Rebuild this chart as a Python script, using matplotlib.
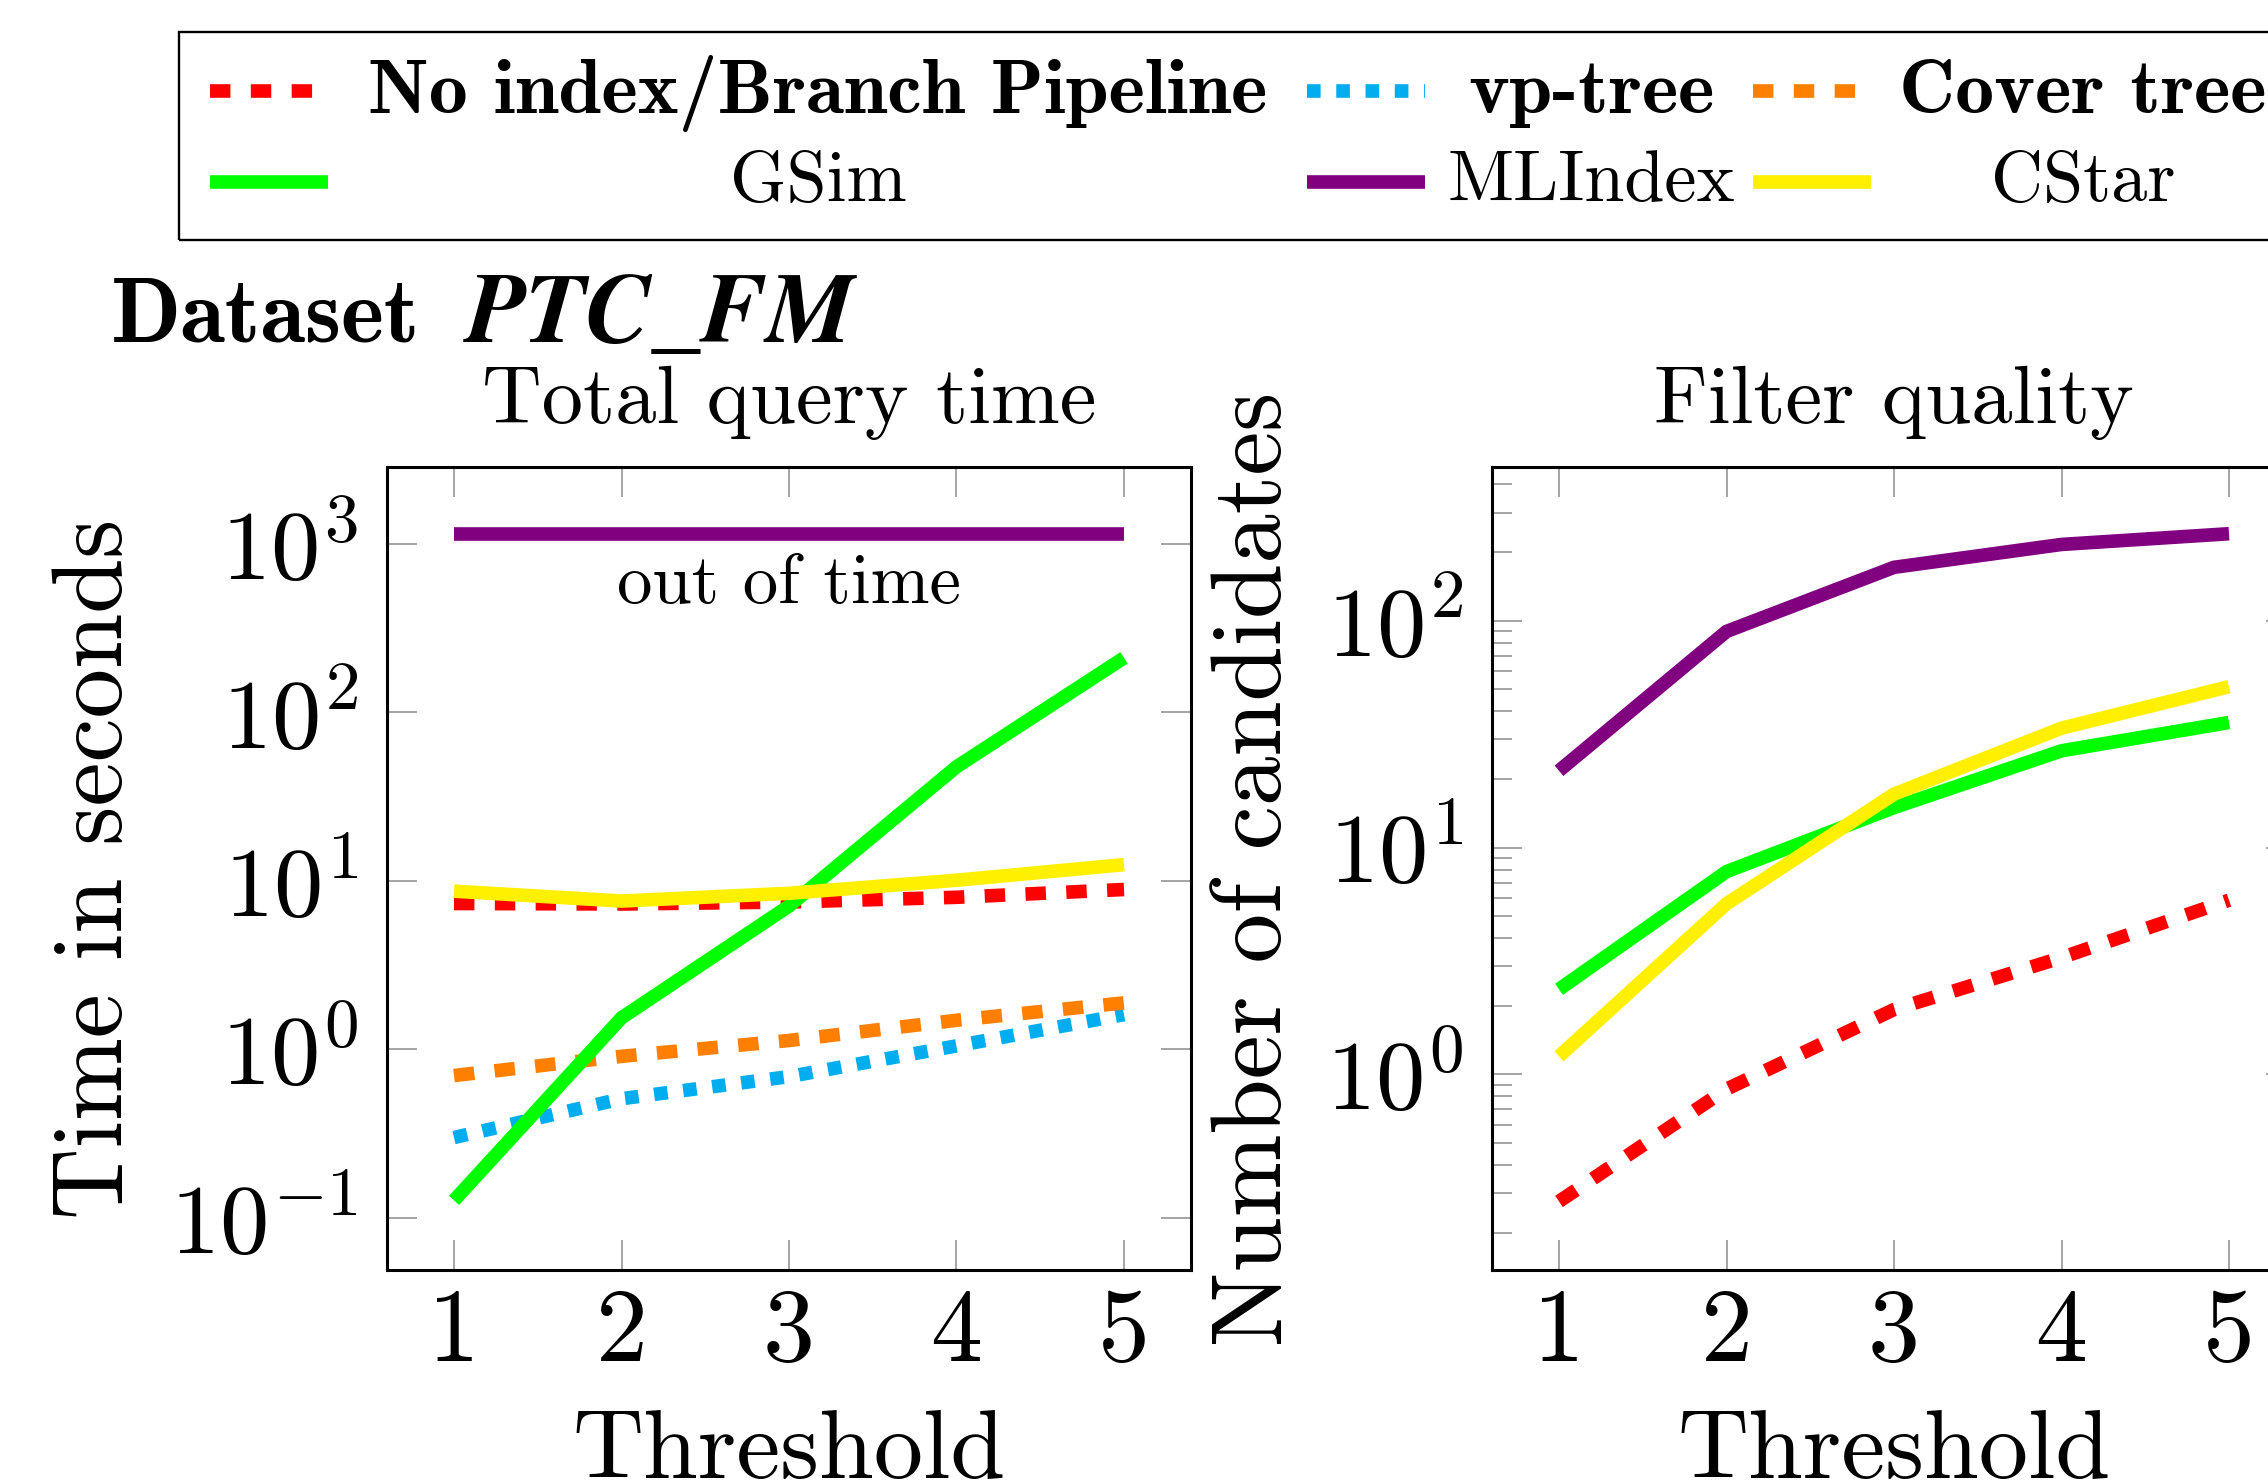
import matplotlib
matplotlib.use("Agg")
import matplotlib.pyplot as plt
from matplotlib.lines import Line2D
from matplotlib.patches import Rectangle
from matplotlib import ticker

plt.rcParams['font.family'] = 'cmr10'
plt.rcParams['mathtext.fontset'] = 'cm'
plt.rcParams['axes.formatter.use_mathtext'] = True

# ---------------- data ----------------
thresholds = [1, 2, 3, 4, 5]
tick_labels = ['1', '2', '3', '4', '5']

# Total query time (seconds)
time_noindex = [7.35, 7.3, 7.5, 8.0, 8.9]
time_vptree = [0.30, 0.51, 0.69, 1.05, 1.61]
time_cover = [0.70, 0.91, 1.13, 1.49, 1.89]
time_gsim = [0.127, 1.54, 7.1, 47.6, 211]
time_mlindex = [1150, 1150, 1150, 1150, 1150]   # out of time
time_cstar = [8.7, 7.6, 8.45, 10.1, 12.5]

# Filter quality (number of candidates)
cand_noindex = [0.275, 0.86, 1.93, 3.27, 5.86]
cand_gsim = [2.37, 7.83, 15.0, 26.7, 35.6]
cand_mlindex = [21.8, 89.7, 172, 217, 242]
cand_cstar = [1.20, 5.65, 17.2, 33.6, 51.2]

names = ['No index/Branch Pipeline', 'vp-tree', 'Cover tree', 'GSim', 'MLIndex', 'CStar']
colors = ['#FF0000', '#00AEEF', '#FF8000', '#00FF00', '#800080', '#FFF000']
dashes = [(1.5, 1.5), (1.0, 1.15), (1.5, 1.5), None, None, None]
bold_label = [True, True, True, False, False, False]

time_series = [time_noindex, time_vptree, time_cover, time_gsim, time_mlindex, time_cstar]
cand_series = [cand_noindex, None, None, cand_gsim, cand_mlindex, cand_cstar]

LW = 9.8
W, H = 2268, 1484
fig = plt.figure(figsize=(W / 100, H / 100), dpi=100)


def fx(x):
    return x / W


def fy(y):
    return 1 - y / H


axw = 804 / W
axh = 803 / H
ax1 = fig.add_axes([fx(387), fy(1270), axw, axh])
ax2 = fig.add_axes([fx(1492), fy(1270), axw, axh])

for ax, series in ((ax1, time_series), (ax2, cand_series)):
    for vals, c, d in zip(series, colors, dashes):
        if vals is None:
            continue
        line, = ax.plot(thresholds, vals, color=c, lw=LW, solid_capstyle='butt',
                        dash_capstyle='butt', solid_joinstyle='miter')
        if d is not None:
            line.set_dashes(d)
    ax.set_yscale('log')
    ax.set_xlim(0.6, 5.4)
    ax.set_xticks(thresholds, labels=tick_labels)
    ax.yaxis.set_minor_formatter(ticker.NullFormatter())
    ax.tick_params(which='both', direction='in', top=True, right=True, color='#8c8c8c',
                   width=1.1)
    ax.tick_params(which='major', length=21.6)
    ax.tick_params(which='minor', length=14.4)
    ax.tick_params(axis='x', labelsize=75, pad=13)
    ax.tick_params(axis='y', labelsize=71, pad=21)
    for sp in ax.spines.values():
        sp.set_linewidth(2.2)
    ax.set_xlabel('Threshold', fontsize=71, va='baseline')
    ax.xaxis.set_label_coords(0.5, -0.259)

ax1.set_ylim(10 ** -1.309, 10 ** 3.457)
ax2.set_ylim(10 ** -0.863, 10 ** 2.678)
ax1.yaxis.set_major_locator(ticker.LogLocator(base=10, numticks=20))
ax2.yaxis.set_major_locator(ticker.LogLocator(base=10, numticks=20))

ax1.set_title('Total query time', fontsize=59.5, pad=31.7)
ax2.set_title('Filter quality', fontsize=59.5, pad=31.7)

ax1.set_ylabel('Time in seconds', fontsize=71.5, va='baseline')
ax1.yaxis.set_label_coords(-0.3296, 0.5)
ax2.set_ylabel('Number of candidates', fontsize=71.5, va='baseline')
ax2.yaxis.set_label_coords(-0.2624, 0.5)

ax1.text(0.5, 0.831, 'out of time', transform=ax1.transAxes, ha='center',
         va='baseline', fontsize=51)

# ---------------- dataset heading ----------------
fig.text(fx(111), fy(342), 'Dataset', family='cmb10', fontsize=66, va='baseline')
fig.text(fx(466), fy(342), 'PTC_FM', family='STIXGeneral', weight='bold', style='italic',
         fontsize=71, va='baseline')

# ---------------- legend (drawn as figure artists) ----------------
fig.add_artist(Rectangle((fx(179), fy(240)), fx(2400) - fx(179), fy(32) - fy(240),
                         transform=fig.transFigure, fill=False, lw=1.7, ec='black'))
handle_x = [210, 1307, 1753]
text_cx = [818, 1591, 2083]
row_y = [91, 182]
row_base = [113, 201]
HL = 118
for i, (nm, c, d, b) in enumerate(zip(names, colors, dashes, bold_label)):
    r, col = divmod(i, 3)
    ln = Line2D([fx(handle_x[col]), fx(handle_x[col] + HL)], [fy(row_y[r]), fy(row_y[r])],
                transform=fig.transFigure, color=c, lw=LW, solid_capstyle='butt',
                dash_capstyle='butt')
    if d is not None:
        ln.set_dashes(d)
    fig.add_artist(ln)
    fig.text(fx(text_cx[col]), fy(row_base[r]), nm, ha='center', va='baseline',
             fontsize=56 if b else 52, family='cmb10' if b else 'cmr10')

fig.savefig('out.png', dpi=100)
